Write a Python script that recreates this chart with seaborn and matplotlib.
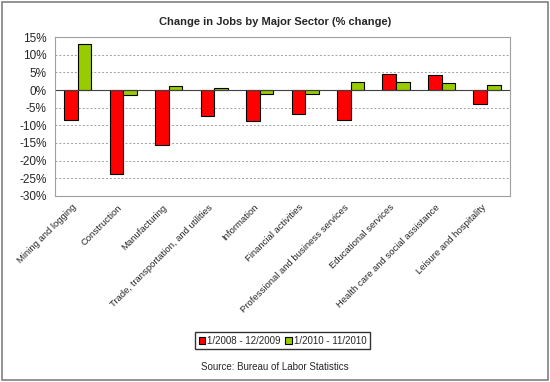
import pandas as pd
import matplotlib.pyplot as plt
import matplotlib.ticker as mticker
import matplotlib.transforms as mtransforms
import seaborn as sns

sectors = ["Mining and logging", "Construction", "Manufacturing",
           "Trade, transportation, and utilities", "Information",
           "Financial activities", "Professional and business services",
           "Educational services", "Health care and social assistance",
           "Leisure and hospitality"]
period_1 = [-8.5, -23.7, -15.7, -7.3, -8.9, -6.7, -8.5, 4.5, 4.2, -4.0]
period_2 = [13.0, -1.3, 1.0, 0.7, -1.0, -1.0, 2.3, 2.3, 2.0, 1.5]
labels = ["1/2008 - 12/2009", "1/2010 - 11/2010"]

df = pd.DataFrame({"sector": sectors * 2,
                   "change": period_1 + period_2,
                   "period": [labels[0]] * 10 + [labels[1]] * 10})

sns.set_style("white")
plt.rcParams["font.family"] = ["Liberation Sans", "DejaVu Sans"]

fig = plt.figure(figsize=(5.5, 3.82), dpi=100)
ax = fig.add_axes([0.1, 0.487, 0.827, 0.416])

sns.barplot(data=df, x="sector", y="change", hue="period",
            palette=["#ff0000", "#99cc00"], saturation=1, width=0.6,
            edgecolor="black", linewidth=0.8, ax=ax)

ax.set_ylim(-30, 15)
ax.set_xlim(-0.5, 9.5)
ax.yaxis.set_major_locator(mticker.MultipleLocator(5))
ax.yaxis.set_major_formatter(mticker.FuncFormatter(lambda v, p: f"{v:.0f}%"))
ax.tick_params(axis="y", labelsize=8.5, length=3, color="#808080", pad=3)
ax.tick_params(axis="x", labelsize=6.8, length=0, pad=5)
ax.set_xticks(range(len(sectors)))
ax.set_xticklabels(sectors, rotation=45, ha="right", rotation_mode="anchor")
shift = mtransforms.ScaledTranslation(-6 / 100, 0, fig.dpi_scale_trans)
for lab in ax.get_xticklabels():
    lab.set_transform(lab.get_transform() + shift)
ax.set_xlabel("")
ax.set_ylabel("")
ax.grid(axis="y", linestyle=(0, (2, 2)), color="#a0a0a0", linewidth=0.7)
ax.set_axisbelow(True)
ax.axhline(0, color="#404040", linewidth=0.8, zorder=1)
for s in ax.spines.values():
    s.set_color("#a0a0a0")
    s.set_linewidth(0.8)

ax.legend(loc="center", bbox_to_anchor=(0.5, -0.91), ncol=2, fontsize=7,
          frameon=True, fancybox=False, edgecolor="black", handlelength=0.7,
          handleheight=0.7, handletextpad=0.2, columnspacing=0.4,
          borderpad=0.4)

fig.text(0.5, 0.942, "Change in Jobs by Major Sector (% change)",
         ha="center", va="center", fontsize=8, fontweight="bold")
fig.text(0.5, 0.039, "Source: Bureau of Labor Statistics",
         ha="center", va="center", fontsize=7)

border = plt.Rectangle((0.004, 0.006), 0.992, 0.988, transform=fig.transFigure,
                       fill=False, edgecolor="#808080", linewidth=1.2)
fig.patches.append(border)

fig.savefig("out.png", dpi=100)
